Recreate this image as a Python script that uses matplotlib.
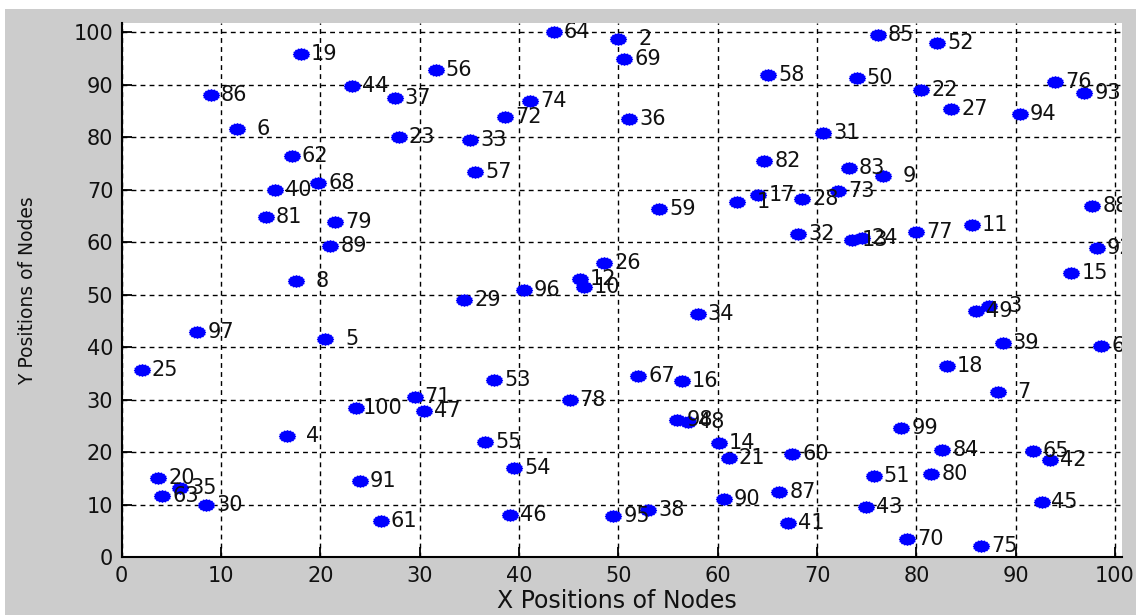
import numpy as np
import matplotlib
matplotlib.use("Agg")
import matplotlib.pyplot as plt
from matplotlib.path import Path
from matplotlib.patches import Rectangle

# node positions (node i -> x_pos[i-1], y_pos[i-1])
node_ids = list(range(1, 101))
x_pos = [61.9, 50.0, 87.3, 16.6, 20.5, 11.6, 88.2, 17.5, 76.6, 46.5,
         85.6, 46.1, 73.5, 60.1, 95.6, 56.4, 64.1, 83.1, 18.0, 3.7,
         61.1, 80.5, 27.9, 74.5, 2.0, 48.6, 83.5, 68.5, 34.5, 8.5,
         70.6, 68.1, 35.1, 58.0, 5.9, 51.1, 27.5, 53.0, 88.7, 15.4,
         67.1, 93.5, 74.9, 23.2, 92.6, 39.1, 30.4, 57.0, 86.0, 74.0,
         75.7, 82.1, 37.5, 39.5, 36.6, 31.6, 35.6, 65.1, 54.1, 67.5,
         26.1, 17.1, 4.1, 43.5, 91.7, 98.6, 52.0, 19.8, 50.6, 79.1,
         29.5, 38.6, 72.1, 41.1, 86.5, 94.0, 80.0, 45.1, 21.5, 81.5,
         14.5, 64.7, 73.2, 82.6, 76.1, 9.0, 66.2, 97.7, 21.0, 60.6,
         24.0, 98.2, 96.9, 90.4, 49.5, 40.5, 7.6, 55.9, 78.5, 23.6]
y_pos = [67.6, 98.8, 47.9, 23.2, 41.6, 81.6, 31.4, 52.7, 72.7, 51.5,
         63.4, 53.0, 60.4, 21.8, 54.2, 33.5, 69.1, 36.5, 95.9, 15.1,
         19.0, 89.1, 80.1, 60.8, 35.6, 56.1, 85.5, 68.3, 49.1, 10.0,
         80.9, 61.6, 79.6, 46.3, 13.2, 83.5, 87.5, 9.1, 40.9, 69.9,
         6.5, 18.6, 9.5, 89.8, 10.6, 8.1, 27.9, 25.7, 47.0, 91.3,
         15.4, 98.0, 33.8, 17.0, 22.0, 92.9, 73.4, 91.9, 66.3, 19.7,
         7.0, 76.5, 11.6, 100.0, 20.2, 40.2, 34.5, 71.3, 94.9, 3.5,
         30.6, 83.9, 69.7, 87.0, 2.1, 90.5, 61.9, 30.0, 63.9, 15.9,
         64.8, 75.6, 74.2, 20.5, 99.6, 88.0, 12.4, 67.0, 59.4, 11.1,
         14.6, 58.9, 88.5, 84.5, 7.8, 51.0, 43.0, 26.1, 24.6, 28.4]
x_ticks = list(range(0, 101, 10))
y_ticks = list(range(0, 101, 10))

W, H = 1136, 615
fig = plt.figure(figsize=(W / 100, H / 100), dpi=100, facecolor="#cccccc")

# white border strips at the top and left of the screenshot
fig.add_artist(Rectangle((0, 1 - 9 / H), 1, 9 / H, transform=fig.transFigure,
                         facecolor="white", edgecolor="none"))
fig.add_artist(Rectangle((0, 0), 5 / W, 1, transform=fig.transFigure,
                         facecolor="white", edgecolor="none"))

ax = fig.add_axes([121.7 / W, (H - 557.3) / H, (1122 - 121.7) / W, (557.3 - 23) / H])
ax.set_facecolor("white")

# slightly stretched spiky blob, like the matlab '*' + 'o' marker
ang = np.linspace(0, 2 * np.pi, 33)[:-1]
rad = np.where(np.arange(len(ang)) % 2 == 0, 1.0, 0.84)
verts = np.column_stack([1.4 * rad * np.cos(ang), rad * np.sin(ang)])
blob = Path(np.vstack([verts, verts[:1]]), closed=True)

ax.plot(x_pos, y_pos, linestyle="none", marker=blob, markersize=11.5,
        markerfacecolor="#0000ff", markeredgecolor="#0000ff", zorder=3)

for nid, xv, yv in zip(node_ids, x_pos, y_pos):
    off = 2.0 if nid < 10 else (1.0 if nid < 100 else 0.7)
    ax.text(xv + off, yv, str(nid), fontsize=15, color="#111111",
            ha="left", va="center", zorder=4, clip_on=True)

ax.set_xlim(0, 100.7)
ax.set_ylim(0, 101.8)
ax.set_xticks(x_ticks)
ax.set_yticks(y_ticks)
ax.grid(True, color="black", linestyle=(0, (3.5, 3)), linewidth=1.0)
ax.set_axisbelow(True)

ax.spines["top"].set_visible(False)
ax.spines["right"].set_visible(False)
for s in ["left", "bottom"]:
    ax.spines[s].set_linewidth(1.5)
    ax.spines[s].set_color("black")
ax.tick_params(direction="in", length=7, width=1.3, labelsize=15,
               labelcolor="#111111", pad=6)

fig.text(617 / W, 1 - 601 / H, "X Positions of Nodes", fontsize=17,
         color="#111111", ha="center", va="center")
fig.text(28 / W, 1 - 291 / H, "Y Positions of Nodes", fontsize=13.5,
         color="#111111", ha="center", va="center", rotation=90)

fig.savefig("out.png", dpi=100, facecolor=fig.get_facecolor())
